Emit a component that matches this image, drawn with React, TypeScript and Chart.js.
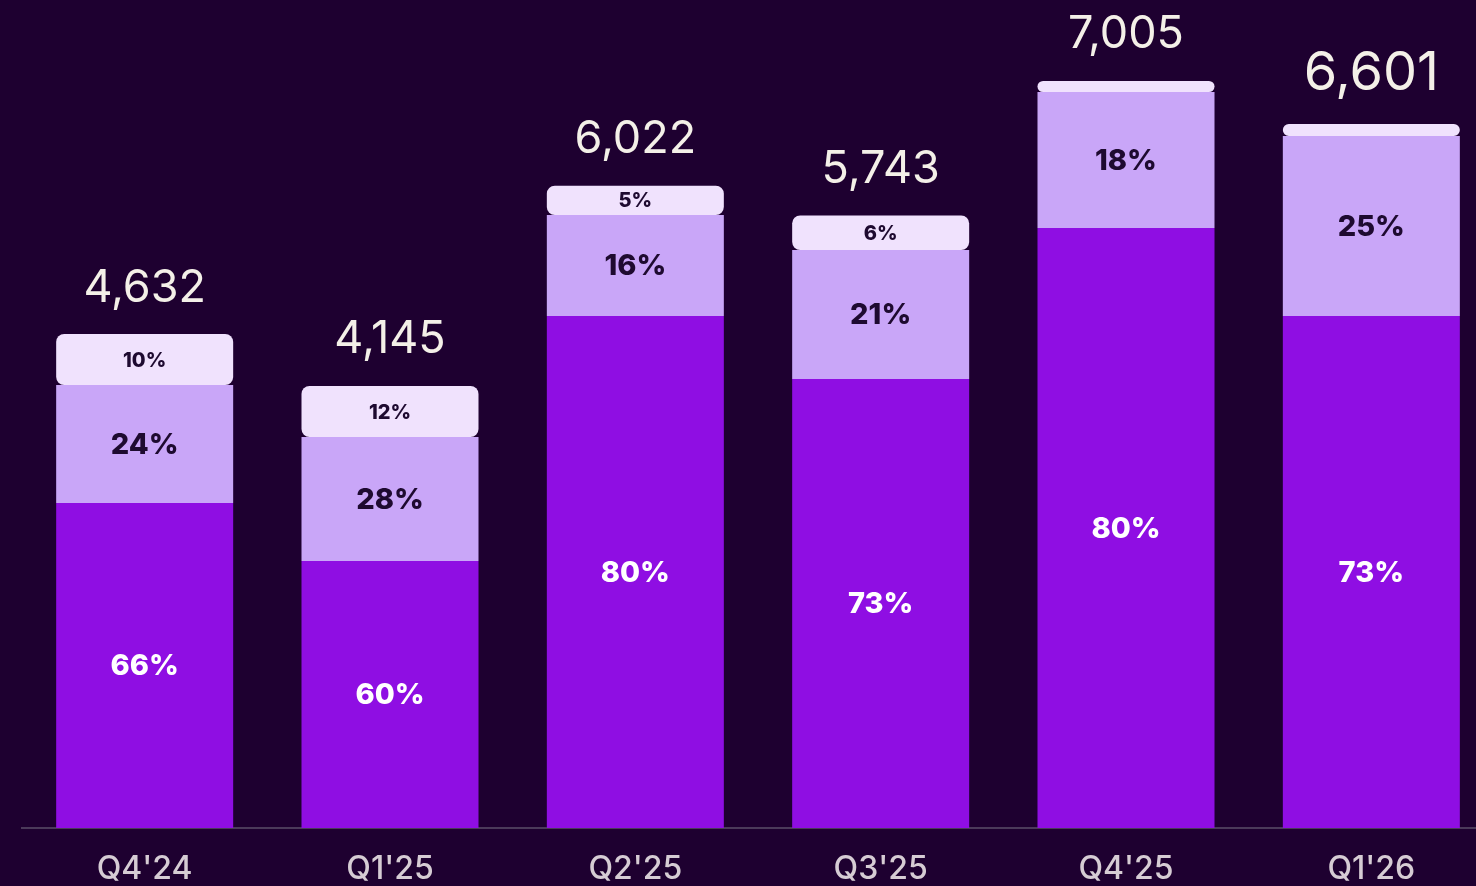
import React, { useEffect, useRef } from "react";
import { Chart, registerables } from "chart.js";

Chart.register(...registerables);

const categories = ["Q4'24", "Q1'25", "Q2'25", "Q3'25", "Q4'25", "Q1'26"];
const totals = [4632, 4145, 6022, 5743, 7005, 6601];
const baseValues = [3047, 2503, 4801, 4210, 5626, 4801];
const midValues = [1106, 1163, 947, 1210, 1275, 1688];
const topValues = [479, 479, 274, 323, 104, 112];
const basePct = ["66%", "60%", "80%", "73%", "80%", "73%"];
const midPct = ["24%", "28%", "16%", "21%", "18%", "25%"];
const topPct = ["10%", "12%", "5%", "6%", "", ""];

const BG = "#1e0030";
const FONT = "Inter, 'Noto Sans', sans-serif";

const labelPlugin = {
  id: "segLabels",
  afterDatasetsDraw(chart: any) {
    const ctx = chart.ctx;
    const sets = [
      { pct: basePct, color: "#ffffff", size: 29 },
      { pct: midPct, color: "#1e0a30", size: 29 },
      { pct: topPct, color: "#1e0a30", size: 20 },
    ];
    ctx.save();
    ctx.textAlign = "center";
    ctx.textBaseline = "middle";
    sets.forEach((s, di) => {
      const meta = chart.getDatasetMeta(di);
      ctx.font = `800 ${s.size}px ${FONT}`;
      ctx.fillStyle = s.color;
      meta.data.forEach((bar: any, i: number) => {
        const { x, y, base } = bar.getProps(["x", "y", "base"], true);
        if (s.pct[i]) ctx.fillText(s.pct[i], x, (y + base) / 2 + 1);
      });
    });
    const topMeta = chart.getDatasetMeta(2);
    ctx.fillStyle = "#f4f0e8";
    topMeta.data.forEach((bar: any, i: number) => {
      const { x, y } = bar.getProps(["x", "y"], true);
      const last = i === totals.length - 1;
      ctx.font = `400 ${last ? 54 : 45}px ${FONT}`;
      ctx.fillText(totals[i].toLocaleString("en-US"), x, y - (last ? 50 : 46));
    });
    ctx.restore();
  },
};

export default function App() {
  const ref = useRef<HTMLCanvasElement>(null);
  useEffect(() => {
    document.body.style.margin = "0";
    document.body.style.background = BG;
    const chart = new Chart(ref.current!, {
      type: "bar",
      data: {
        labels: categories,
        datasets: [
          { data: baseValues, backgroundColor: "#8f0ee3", borderSkipped: "start" as any },
          { data: midValues, backgroundColor: "#c9a6f8", borderSkipped: "start" as any },
          {
            data: topValues,
            backgroundColor: "#f0e2fd",
            borderRadius: 8,
            borderSkipped: false,
          },
        ],
      },
      options: {
        responsive: false,
        animation: false,
        events: [],
        layout: { padding: { left: 22, right: 6, top: 0, bottom: 0 } },
        datasets: { bar: { barPercentage: 1, categoryPercentage: 0.7215 } },
        plugins: { legend: { display: false }, tooltip: { enabled: false } },
        scales: {
          x: {
            stacked: true,
            grid: { display: false, drawTicks: false },
            border: { display: true, color: "#4b3a5a", width: 2 },
            ticks: {
              color: "#d6ccd4",
              font: { family: FONT, size: 32, weight: "500" as any },
              padding: 22,
            },
            afterFit(scale: any) {
              scale.height = 58;
            },
          },
          y: {
            stacked: true,
            display: false,
            min: 0,
            max: 7764,
          },
        },
      },
      plugins: [labelPlugin],
    });
    return () => chart.destroy();
  }, []);
  return (
    <div
      style={{
        position: "fixed",
        left: 0,
        top: 0,
        width: 1476,
        height: 886,
        overflow: "hidden",
        background: BG,
      }}
    >
      <canvas ref={ref} width={1500} height={886} style={{ display: "block" }} />
    </div>
  );
}
